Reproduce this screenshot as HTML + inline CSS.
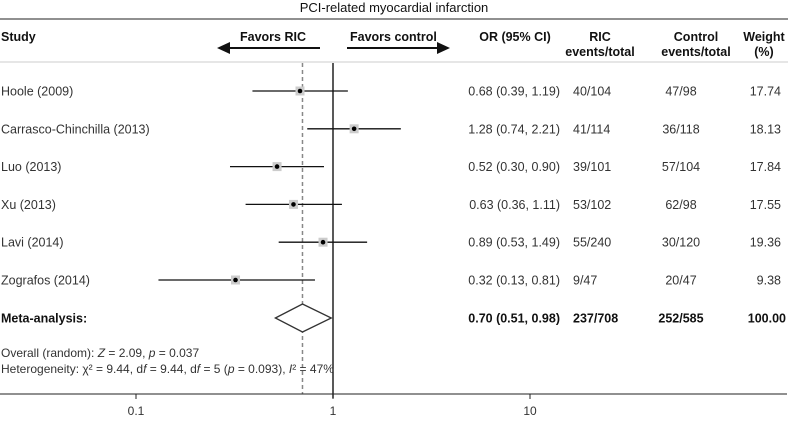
<!DOCTYPE html>
<html><head><meta charset="utf-8"><style>
html,body{margin:0;padding:0;background:#fff;}
body{width:788px;height:419px;overflow:hidden;font-family:"Liberation Sans","DejaVu Sans",sans-serif;}
svg text{font-family:"Liberation Sans","DejaVu Sans",sans-serif;}
</style></head><body>
<svg id="chart" width="788" height="419" viewBox="0 0 788 419" xmlns="http://www.w3.org/2000/svg">
<text x="394" y="12" text-anchor="middle" font-size="13" fill="#111">PCI-related myocardial infarction</text>
<line x1="0" y1="19" x2="788" y2="19" stroke="#222" stroke-width="1"/>
<line x1="0" y1="62" x2="788" y2="62" stroke="#ccc" stroke-width="1"/>
<g font-weight="bold" font-size="12.5" fill="#111">
<text x="1" y="41">Study</text>
<text x="240" y="41">Favors RIC</text>
<text x="350" y="41">Favors control</text>
<text x="515" y="41" text-anchor="middle">OR (95% CI)</text>
<text x="600" y="41" text-anchor="middle">RIC</text>
<text x="600" y="56" text-anchor="middle">events/total</text>
<text x="696" y="41" text-anchor="middle">Control</text>
<text x="696" y="56" text-anchor="middle">events/total</text>
<text x="764" y="41" text-anchor="middle">Weight</text>
<text x="764" y="56" text-anchor="middle">(%)</text>
</g>
<line x1="230" y1="48" x2="320" y2="48" stroke="#111" stroke-width="2"/>
<polygon points="217,48 230,42 230,54" fill="#111"/>
<line x1="347" y1="48" x2="437" y2="48" stroke="#111" stroke-width="2"/>
<polygon points="450,48 437,42 437,54" fill="#111"/>
<g id="plot"></g>
<text x="1" y="357" font-size="12" fill="#333">Overall (random): <tspan font-style="italic">Z</tspan> = 2.09, <tspan font-style="italic">p</tspan> = 0.037</text>
<text x="1" y="373" font-size="12" fill="#333">Heterogeneity: χ² = 9.44, d<tspan font-style="italic">f</tspan> = 9.44, d<tspan font-style="italic">f</tspan> = 5 (<tspan font-style="italic">p</tspan> = 0.093), <tspan font-style="italic">I</tspan>² = 47%</text>
</svg>
<script>
const studies = ["Hoole (2009)","Carrasco-Chinchilla (2013)","Luo (2013)","Xu (2013)","Lavi (2014)","Zografos (2014)"];
const orValues = [0.68,1.28,0.52,0.63,0.89,0.32];
const ciLow = [0.39,0.74,0.30,0.36,0.53,0.13];
const ciHigh = [1.19,2.21,0.90,1.11,1.49,0.81];
const ricEvents = ["40/104","41/114","39/101","53/102","55/240","9/47"];
const ctrlEvents = ["47/98","36/118","57/104","62/98","30/120","20/47"];
const weights = ["17.74","18.13","17.84","17.55","19.36","9.38"];
const metaOR = 0.70, metaLow = 0.51, metaHigh = 0.98;
const metaText = ["0.70 (0.51, 0.98)","237/708","252/585","100.00"];
const tickValues = [0.1,1,10];
const tickLabels = ["0.1","1","10"];

const NS="http://www.w3.org/2000/svg";
const g=document.getElementById('plot');
function x(v){return 333+197*Math.log10(v);}
function rowY(i){return 91+i*37.8;}
function mk(tag,attrs){const e=document.createElementNS(NS,tag);for(const k in attrs)e.setAttribute(k,attrs[k]);g.appendChild(e);return e;}
function fmt(v){return v.toFixed(2);}

let e=mk('line',{x1:x(metaOR),y1:63,x2:x(metaOR),y2:394,stroke:'#888','stroke-width':1.5,'stroke-dasharray':'4,3'});


e=mk('line',{x1:x(1),y1:63,x2:x(1),y2:398,stroke:'#222','stroke-width':1.5});



studies.forEach((s,i)=>{
  const y=rowY(i);
  let t=mk('text',{x:1,y:y+4.5,'font-size':12.5,fill:'#333'});t.textContent=s;
  
  
  let l=mk('line',{x1:x(ciLow[i]),y1:y,x2:x(ciHigh[i]),y2:y,stroke:'#111','stroke-width':1.3});
  
  
  let r=mk('rect',{x:x(orValues[i])-4.5,y:y-4.5,width:9,height:9,fill:'#ccc'});
  
  
  let c=mk('circle',{cx:x(orValues[i]),cy:y,r:2.3,fill:'#000'});
  
  
  let o=mk('text',{x:560,y:y+4.5,'font-size':12.5,fill:'#333','text-anchor':'end'});
  o.textContent=fmt(orValues[i])+' ('+fmt(ciLow[i])+', '+fmt(ciHigh[i])+')';
  
  
  let a=mk('text',{x:573,y:y+4.5,'font-size':12.5,fill:'#333'});a.textContent=ricEvents[i];
  
  
  let b=mk('text',{x:681,y:y+4.5,'font-size':12.5,fill:'#333','text-anchor':'middle'});b.textContent=ctrlEvents[i];
  
  
  let w=mk('text',{x:781,y:y+4.5,'font-size':12.5,fill:'#333','text-anchor':'end'});w.textContent=weights[i];
  
  
});

const my=318;
let d=mk('polygon',{points:`${x(metaLow)},${my} ${x(metaOR)},${my-14} ${x(metaHigh)},${my} ${x(metaOR)},${my+14}`,fill:'#fff',stroke:'#333','stroke-width':1.3});


let mt=mk('text',{x:1,y:my+4.5,'font-size':12.5,'font-weight':'bold',fill:'#111'});mt.textContent='Meta-analysis:';


[[560,'end'],[573,'start'],[681,'middle'],[786,'end']].forEach((p,k)=>{
  let t=mk('text',{x:p[0],y:my+4.5,'font-size':12.5,'font-weight':'bold',fill:'#111','text-anchor':p[1]});
  t.textContent=metaText[k];
  
  
});

let ax=mk('line',{x1:0,y1:394,x2:787,y2:394,stroke:'#222','stroke-width':1});


tickValues.forEach((v,i)=>{
  let tk=mk('line',{x1:x(v),y1:394,x2:x(v),y2:399,stroke:'#222'});
  
  
  let tl=mk('text',{x:x(v),y:415,'font-size':12,fill:'#333','text-anchor':'middle'});tl.textContent=tickLabels[i];
  
  
});
</script>
</body></html>
